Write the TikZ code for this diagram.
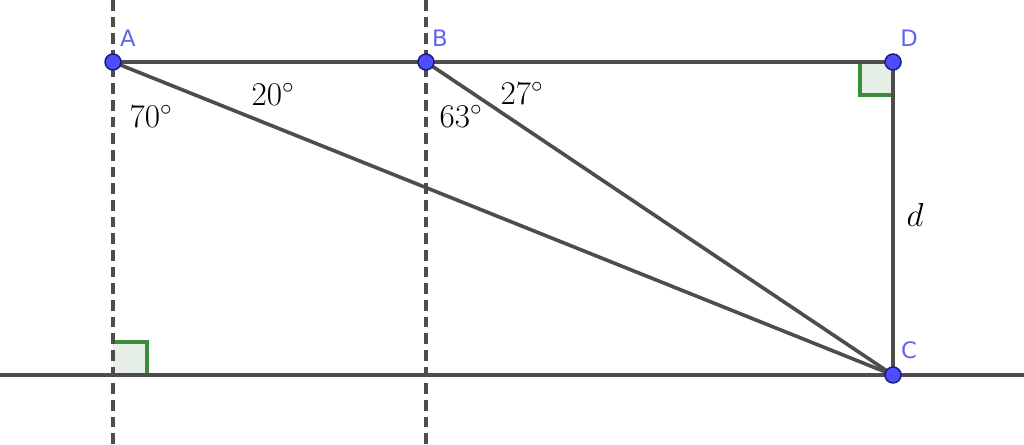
\documentclass[tikz,border=0pt]{standalone}
\usepackage{fontspec}
\newfontfamily\lab{DejaVu Sans}
\definecolor{ln}{HTML}{4D4D4D}
\definecolor{pt}{HTML}{4D4DFF}
\definecolor{ptb}{HTML}{1A1A80}
\definecolor{lbl}{HTML}{6262F5}
\definecolor{rg}{HTML}{3C8C3C}
\definecolor{rgf}{HTML}{E6EFE6}
\begin{document}
\begin{tikzpicture}[x=0.75pt,y=-0.75pt,
  seg/.style={draw=ln,line width=2.7pt},
  dashline/.style={draw=ln,line width=2.5pt,dash pattern=on 8pt off 4.5pt},
  ra/.style={draw=rg,fill=rgf,line width=2.4pt},
  dot/.style={circle,fill=pt,draw=ptb,line width=1.1pt,inner sep=0pt,minimum size=12pt},
  plab/.style={text=lbl,font=\lab\fontsize{17}{17}\selectfont,inner sep=0pt},
  ang/.style={font=\fontsize{24}{24}\selectfont,inner sep=0pt}]
\useasboundingbox (0,0) rectangle (1024,445);
\coordinate (A) at (113,62);
\coordinate (B) at (426,62);
\coordinate (D) at (893,62);
\coordinate (C) at (893,375);
\coordinate (Ltop) at (113,0);
\coordinate (Lbot) at (113,445);
\coordinate (Btop) at (426,0);
\coordinate (Bbot) at (426,445);
\coordinate (H0) at (0,375);
\coordinate (H1) at (1024,375);
% right angle marks
\path[ra] (860,62) -- (860,95) -- (893,95) -- (893,62);
\path[ra] (113,342) -- (147,342) -- (147,375) -- (113,375);
% lines
\draw[dashline] (Ltop) -- (Lbot);
\draw[dashline] (Btop) -- (Bbot);
\draw[seg] (H0) -- (H1);
\draw[seg] (A) -- (D);
\draw[seg] (D) -- (C);
\draw[seg] (A) -- (C);
\draw[seg] (B) -- (C);
% points
\node[dot] (pA) at (A) {};
\node[dot] (pB) at (B) {};
\node[dot] (pD) at (D) {};
\node[dot] (pC) at (C) {};
\node[plab] (lA) at (128,38) {A};
\node[plab] (lB) at (440,38) {B};
\node[plab] (lD) at (909,38) {D};
\node[plab] (lC) at (909,350) {C};
\node[ang] (a70) at (151,116) {$70^\circ$};
\node[ang] (a20) at (273,94) {$20^\circ$};
\node[ang] (a63) at (461,116) {$63^\circ$};
\node[ang] (a27) at (522,93) {$27^\circ$};
\node[ang] (ld) at (915,215) {$d$};
\end{tikzpicture}
\end{document}
